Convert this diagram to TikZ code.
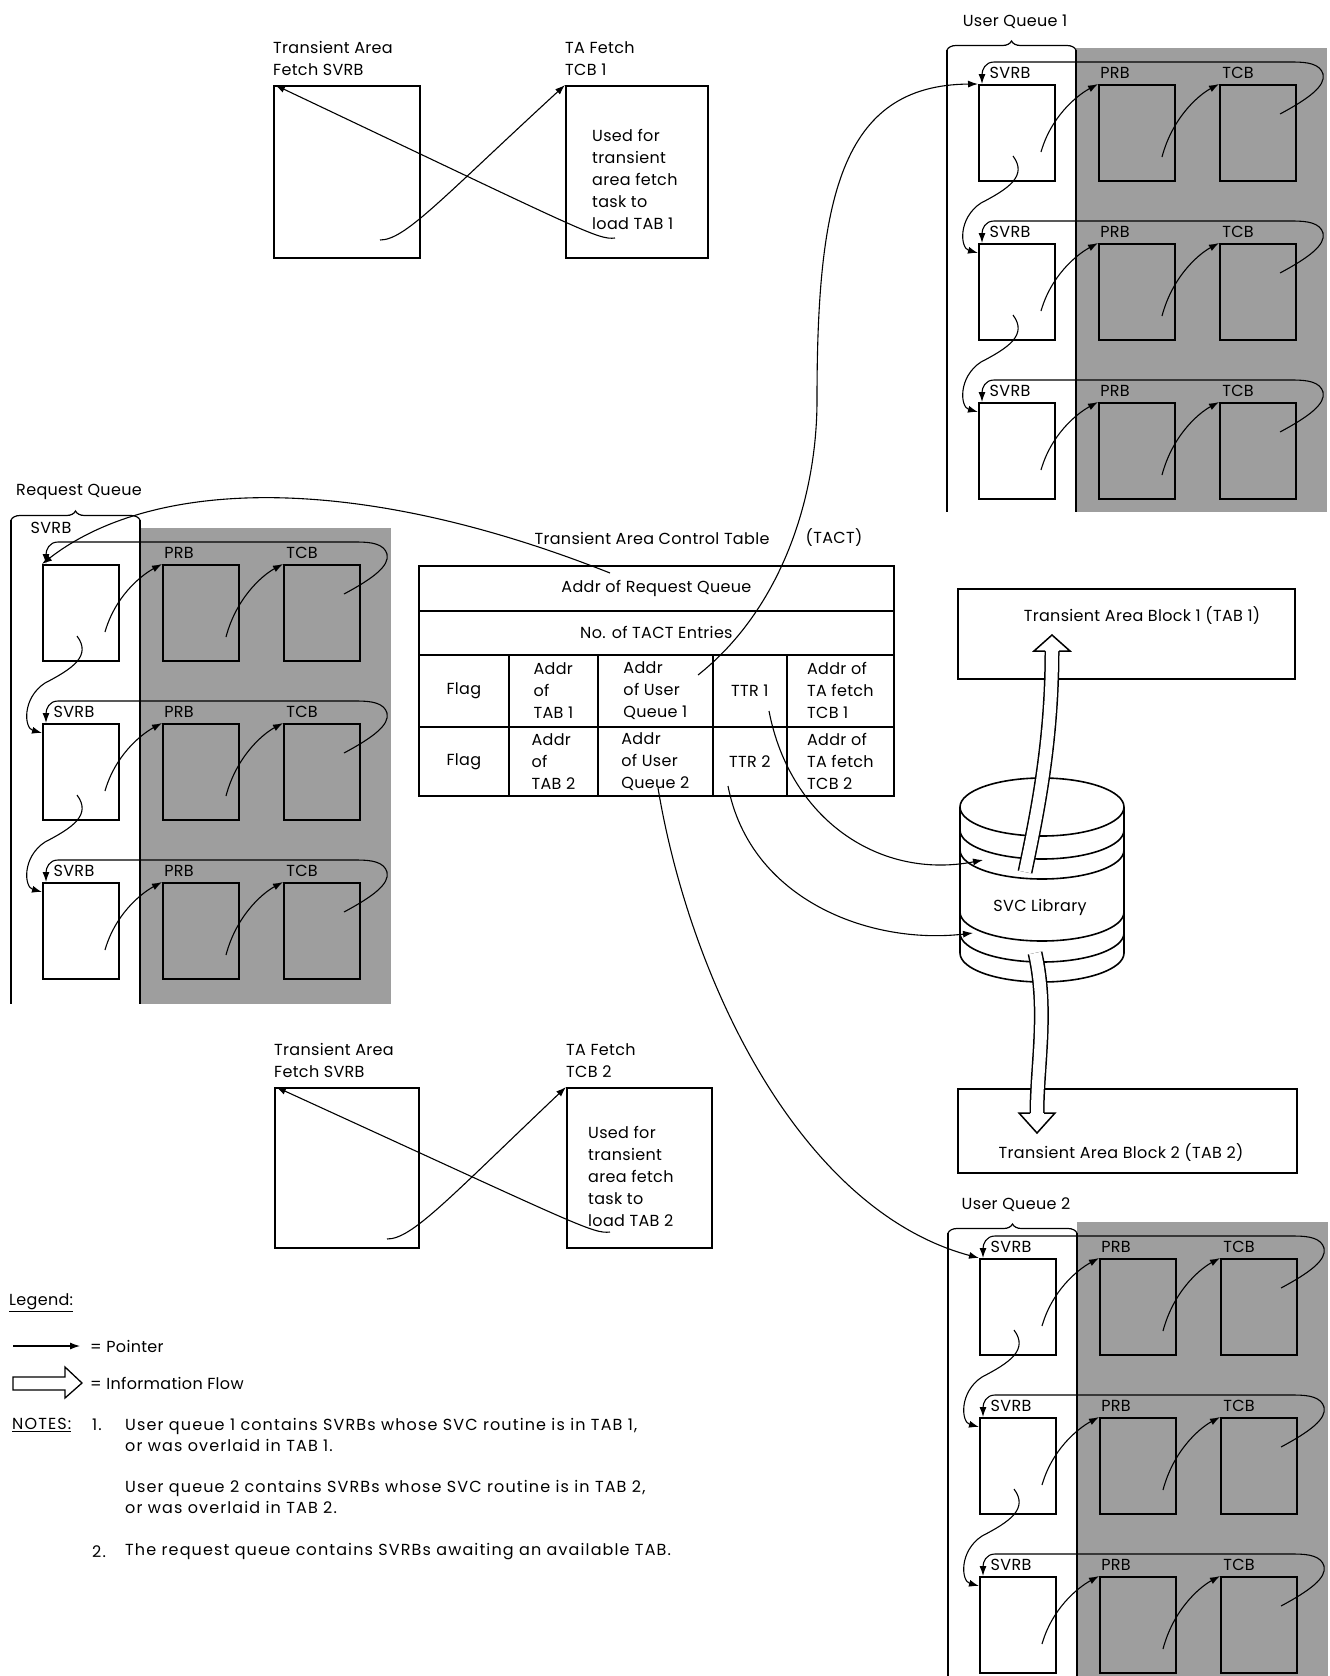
\documentclass[tikz,border=0pt]{standalone}
\usepackage{fontspec}
\setmainfont{Poppins}[LetterSpace=2]
\newfontfamily\notefont{Poppins}[LetterSpace=7]
\usetikzlibrary{positioning,arrows.meta,decorations.pathreplacing}

\begin{document}
\begin{tikzpicture}[x=1pt, y=-1pt, font=\fontsize{16}{22}\selectfont,
  box/.style={draw, line width=1.8pt, inner sep=0pt, anchor=north west},
  rb/.style={box, minimum width=76pt, minimum height=96pt},
  cell/.style={box, align=left},
  txt/.style={inner sep=0pt, align=left, anchor=west},
  note/.style={txt, font=\fontsize{16}{21}\notefont},
  ptr/.style={line width=1.1pt, -{Latex[length=10pt,width=7pt]}},
  bar/.style={line width=2.6pt},
  cyl/.style={line width=1.6pt},
  flow/.style={line width=15pt},
  flowin/.style={line width=12pt, white},
  head/.style={line width=1.5pt, fill=white}]
  \useasboundingbox (0,0) rectangle (1330,1676);

  % transient area fetch, TAB 1
  \node[box, minimum width=146pt, minimum height=172pt] (fs1) at (273,85) {};
  \node[box, minimum width=142pt, minimum height=172pt] (ft1) at (565,85) {};
  \node[txt] (fs1l) [above=9pt of fs1.north west, anchor=south west] {Transient Area\\Fetch SVRB};
  \node[txt] (ft1l) [above=9pt of ft1.north west, anchor=south west] {TA Fetch\\TCB 1};
  \node[txt] (ft1t) at (592,179) {Used for\\transient\\area fetch\\task to\\load TAB 1};
  \coordinate (fs1a) at (380,240);
  \coordinate (ft1a) at (615,238);
  \draw[ptr] (fs1a) .. controls (405,240) and (440,200) .. (ft1.north west);
  \draw[ptr] (ft1a) .. controls (598,240) and (585,232) .. ([xshift=2pt]fs1.north west);

  % transient area fetch, TAB 2
  \node[box, minimum width=144pt, minimum height=160pt] (fs2) at (274,1087) {};
  \node[box, minimum width=145pt, minimum height=160pt] (ft2) at (566,1087) {};
  \node[txt] (fs2l) [above=9pt of fs2.north west, anchor=south west] {Transient Area\\Fetch SVRB};
  \node[txt] (ft2l) [above=9pt of ft2.north west, anchor=south west] {TA Fetch\\TCB 2};
  \node[txt] (ft2t) at (588,1176) {Used for\\transient\\area fetch\\task to\\load TAB 2};
  \coordinate (fs2a) at (387,1239);
  \coordinate (ft2a) at (610,1232);
  \draw[ptr] (fs2a) .. controls (412,1239) and (447,1200) .. (ft2.north west);
  \draw[ptr] (ft2a) .. controls (593,1234) and (580,1226) .. ([xshift=2pt]fs2.north west);

  % queues
  \foreach \q/\qx/\qy/\qd/\qb/\qe/\qn/\lx/\ly in {rq/42/564/159/520/1004/Request Queue/51/528,
      ua/978/84/159/50/512/User Queue 1/1010/73, ub/979/1258/159/1233/1676/User Queue 2/1011/1247}{
    \fill[black!38] (\qx+98,\qy-36) rectangle (\qx+349,\qe);
    \draw[bar] (\qx-31,\qb) -- (\qx-31,\qe);
    \draw[bar] (\qx+98,\qb) -- (\qx+98,\qe);
    \draw[line width=1.2pt, decorate, decoration={brace, amplitude=9pt}] (\qx-31,\qb) -- (\qx+98,\qb);
    \node (\q l) at (\qx+37,\qb-28) {\qn};
    \foreach \r in {0,1,2}{
      \pgfmathsetmacro\ry{\qy+\r*\qd}
      \pgfmathsetmacro\sx{\r==0 ? \lx : \qx+32}
      \pgfmathsetmacro\sy{\r==0 ? \ly : \ry-11}
      \node[rb] (\q s\r) at (\qx,\ry) {};
      \node[rb] (\q p\r) at (\qx+120,\ry) {};
      \node[rb] (\q t\r) at (\qx+241,\ry) {};
      \node (\q sl\r) at (\sx,\sy) {SVRB};
      \node (\q pl\r) at (\qx+137,\ry-11) {PRB};
      \node (\q tl\r) at (\qx+260,\ry-11) {TCB};
      \coordinate (\q a\r) at (\qx+63,\ry+68);
      \coordinate (\q b\r) at (\qx+184,\ry+73);
      \coordinate (\q c\r) at (\qx+302,\ry+30);
      \draw[ptr] (\q a\r) .. controls (\qx+73,\ry+33) and (\qx+98,\ry+12) .. (\q p\r.north west);
      \draw[ptr] (\q b\r) .. controls (\qx+194,\ry+35) and (\qx+219,\ry+12) .. (\q t\r.north west);
      \draw[ptr] (\q c\r) .. controls (\qx+330,\ry+15) and (\qx+348,\ry+2) .. (\qx+345,\ry-10)
        .. controls (\qx+342,\ry-20) and (\qx+330,\ry-22) .. (\qx+315,\ry-22) -- (\qx+16,\ry-22)
        .. controls (\qx+7,\ry-22) and (\qx+4,\ry-14) .. ([xshift=4pt]\q s\r.north west);
    }
    \foreach \r [evaluate=\r as \nr using int(\r+1)] in {0,1}{
      \pgfmathsetmacro\ry{\qy+\r*\qd}
      \coordinate (\q d\r) at (\qx+35,\ry+72);
      \draw[ptr] (\q d\r) .. controls (\qx+50,\ry+92) and (\qx+30,\ry+105) .. (\qx+3,\ry+\qd-40)
        .. controls (\qx-20,\ry+\qd-25) and (\qx-18,\ry+\qd+5) .. ([yshift=-10pt]\q s\nr.north west);
    }
  }

  % transient area control table
  \node (tactl) at (652,538) {Transient Area Control Table};
  \node (tacta) at (834,538) {(TACT)};
  \node[cell, minimum width=475pt, minimum height=45pt] (reqq) at (418,565) {Addr of Request Queue};
  \node[cell, minimum width=475pt, minimum height=44pt] (nent) at (418,610) {No. of TACT Entries};
  \node[cell, minimum width=90pt, minimum height=72pt] (flag1) at (418,654) {Flag};
  \node[cell, minimum width=89pt, minimum height=72pt] (tab1a) at (508,654) {Addr\\of\\TAB 1};
  \node[cell, minimum width=115pt, minimum height=72pt] (uq1a) at (597,654) {Addr\\of User\\Queue 1};
  \node[cell, minimum width=74pt, minimum height=72pt] (ttr1) at (712,654) {TTR 1};
  \node[cell, minimum width=107pt, minimum height=72pt] (tcb1a) at (786,654) {Addr of\\TA fetch\\TCB 1};
  \node[cell, minimum width=90pt, minimum height=69pt] (flag2) at (418,726) {Flag};
  \node[cell, minimum width=89pt, minimum height=69pt] (tab2a) at (508,726) {Addr\\of\\TAB 2};
  \node[cell, minimum width=115pt, minimum height=69pt] (uq2a) at (597,726) {Addr\\of User\\Queue 2};
  \node[cell, minimum width=74pt, minimum height=69pt] (ttr2) at (712,726) {TTR 2};
  \node[cell, minimum width=107pt, minimum height=69pt] (tcb2a) at (786,726) {Addr of\\TA fetch\\TCB 2};

  % SVC library
  \draw[cyl, fill=white] (1042,807) ellipse [x radius=82pt, y radius=29pt];
  \draw[cyl] (960,807) -- (960,953) arc[start angle=180, end angle=360, x radius=82pt, y radius=29pt] -- (1124,807);
  \foreach \h in {830,850,912,933}
    \draw[cyl] (960,\h) arc[start angle=180, end angle=360, x radius=82pt, y radius=29pt];
  \node (svc) at (1040,907) {SVC Library};
  \coordinate (lib1) at (983,860);
  \coordinate (lib2) at (973,933);

  % transient area blocks
  \node[box, minimum width=337pt, minimum height=90pt] (tab1) at (957,588) {};
  \node (tab1l) at (1142,616) {Transient Area Block 1 (TAB 1)};
  \node[box, minimum width=339pt, minimum height=84pt] (tab2) at (957,1088) {};
  \node (tab2l) at (1121,1152) {Transient Area Block 2 (TAB 2)};

  \draw[flow] (1025,872) .. controls (1038,810) and (1052,740) .. (1052,651);
  \draw[flowin] (1025,872) .. controls (1038,810) and (1052,740) .. (1052,651);
  \filldraw[head] (1045,651) -- (1034,651) -- (1052,635) -- (1070,651) -- (1059,651);
  \draw[flow] (1035,953) .. controls (1048,1010) and (1037,1065) .. (1037,1113);
  \draw[flowin] (1035,953) .. controls (1048,1010) and (1037,1065) .. (1037,1113);
  \filldraw[head] (1030,1113) -- (1019,1113) -- (1037,1133) -- (1055,1113) -- (1044,1113);

  % pointers from the table
  \coordinate (reqp) at (610,573);
  \coordinate (uq1p) at (698,675);
  \coordinate (uq2p) at (658,788);
  \coordinate (ttr1p) at (769,711);
  \coordinate (ttr2p) at (728,786);
  \draw[ptr] (reqp) .. controls (350,470) and (150,480) .. (rqs0.north west);
  \draw[ptr] (uq1p) .. controls (780,610) and (817,500) .. (817,400) .. controls (817,200) and (840,85) .. (uas0.north west);
  \draw[ptr] (uq2p) .. controls (690,980) and (800,1210) .. (ubs0.north west);
  \draw[ptr] (ttr1p) .. controls (790,820) and (880,880) .. (lib1);
  \draw[ptr] (ttr2p) .. controls (750,900) and (870,945) .. (lib2);

  % legend and notes
  \node[txt] (leg) at (9,1303) {\underline{Legend:}};
  \coordinate (lp0) at (13,1346);
  \coordinate (lp1) at (80,1346);
  \draw[ptr] (lp0) -- (lp1);
  \node[txt] (legp) at (90,1346) {= Pointer};
  \draw[line width=1.3pt] (13,1377) -- (65,1377) -- (65,1367) -- (82,1383) -- (65,1398) -- (65,1390) -- (13,1390) -- cycle;
  \node[txt] (legf) at (90,1383) {= Information Flow};
  \node[note] (notes) at (12,1425) {\underline{NOTES:}};
  \node[note] (n1) at (92,1425) {1.};
  \node[note] (n1a) at (125,1435) {User queue 1 contains SVRBs whose SVC routine is in TAB 1,\\or was overlaid in TAB 1.};
  \node[note] (n1b) at (125,1497) {User queue 2 contains SVRBs whose SVC routine is in TAB 2,\\or was overlaid in TAB 2.};
  \node[note] (n2) at (92,1552) {2.};
  \node[note] (n2a) at (125,1552) {The request queue contains SVRBs awaiting an available TAB.};
\end{tikzpicture}
\end{document}
